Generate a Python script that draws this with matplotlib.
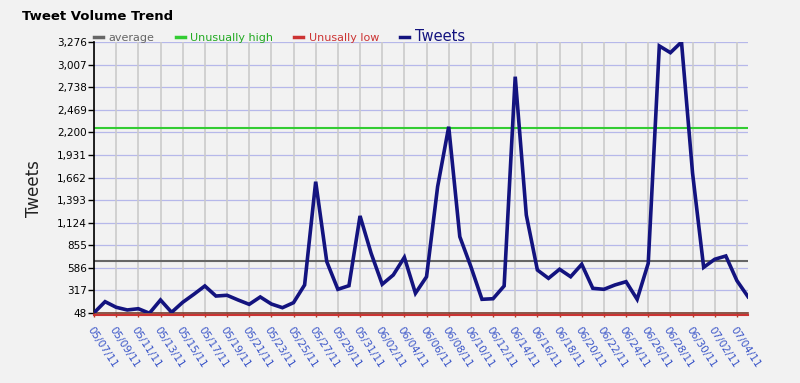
import numpy as np
import pandas as pd
import matplotlib
matplotlib.use("Agg")
import matplotlib.pyplot as plt

# daily tweet counts, 05/07/11 .. 07/05/11
dates = pd.date_range("2011-05-07", "2011-07-05", freq="D")
tweets = [50, 183, 116, 84, 99, 45, 203, 56, 175, 270,
          370, 250, 259, 203, 151, 239, 155, 111, 171, 382,
          1612, 659, 330, 373, 1204, 759, 390, 501, 711, 283,
          480, 1553, 2267, 957, 600, 211, 218, 370, 2863, 1215,
          560, 461, 569, 480, 628, 342, 330, 382, 421, 211,
          640, 3229, 3149, 3276, 1712, 592, 688, 727, 433, 242]
average = 671
unusually_high = 2248
unusually_low = 25

ytick_vals = [48, 317, 586, 855, 1124, 1393, 1662, 1931, 2200, 2469, 2738, 3007, 3276]
xtick_idx = list(range(0, 59, 2))
xtick_labels = [dates[i].strftime("%m/%d/%y") for i in xtick_idx]

BG = "#f2f2f2"
plt.rcParams["font.family"] = ["DejaVu Sans"]

fig = plt.figure(figsize=(8, 3.83), dpi=100, facecolor=BG)
ax = fig.add_axes([0.1175, 0.1828, 0.8175, 0.7075])
ax.set_facecolor(BG)

x = np.arange(len(tweets))

# grid
for v in ytick_vals:
    ax.axhline(v, color="#b6b8ea", lw=0.9, zorder=1)
for i in xtick_idx:
    ax.axvline(i, color="#cbcbcb", lw=1.2, zorder=1)

l_avg, = ax.plot([x[0], x[-1]], [average, average], color="#666666", lw=1.5, zorder=2)
l_hi, = ax.plot([x[0], x[-1]], [unusually_high, unusually_high], color="#33cc33", lw=1.5, zorder=2)
l_lo, = ax.plot([x[0], x[-1]], [unusually_low, unusually_low], color="#cc3333", lw=1.5,
                zorder=2, clip_on=False)
l_tw, = ax.plot(x, tweets, color="#13137f", lw=2.6, zorder=3, solid_joinstyle="miter")

ax.set_xlim(0, len(tweets) - 1)
ax.set_ylim(48, 3276)

ax.set_yticks(ytick_vals)
ax.set_yticklabels(["{:,}".format(v) for v in ytick_vals])
ax.set_xticks(xtick_idx)
ax.set_xticklabels(xtick_labels, rotation=-57, ha="left", va="top",
                   rotation_mode="anchor", color="#3a55c8", fontsize=7.5)
ax.tick_params(axis="y", direction="out", length=4, width=1, colors="black",
               labelsize=7.5, pad=1)
ax.tick_params(axis="x", direction="out", length=3, width=1, color="#b03a20", pad=6)

for s in ["top", "right"]:
    ax.spines[s].set_visible(False)
ax.spines["left"].set_color("black")
ax.spines["left"].set_linewidth(1.2)
ax.spines["bottom"].set_color("#7a3a2a")
ax.spines["bottom"].set_linewidth(1.2)

ax.set_ylabel("Tweets", fontsize=12, color="#222222")
ax.yaxis.set_label_coords(-0.078, 0.46)

fig.text(0.027, 0.957, "Tweet Volume Trend", fontsize=9.5, fontweight="bold", va="center")

leg = ax.legend([l_avg, l_hi, l_lo, l_tw],
                ["average", "Unusually high", "Unusally low", "Tweets"],
                loc="lower left", bbox_to_anchor=(-0.003, 0.985), ncol=4, frameon=False,
                handlelength=0.8, handletextpad=0.5, columnspacing=1.9,
                fontsize=8, borderaxespad=0, borderpad=0.2)
for txt, c in zip(leg.get_texts(), ["#666666", "#22aa22", "#cc3333", "#13137f"]):
    txt.set_color(c)
leg.get_texts()[-1].set_fontsize(10.5)
for h in leg.legend_handles:
    h.set_linewidth(2.5)

fig.savefig("out.png", dpi=100, facecolor=BG)
